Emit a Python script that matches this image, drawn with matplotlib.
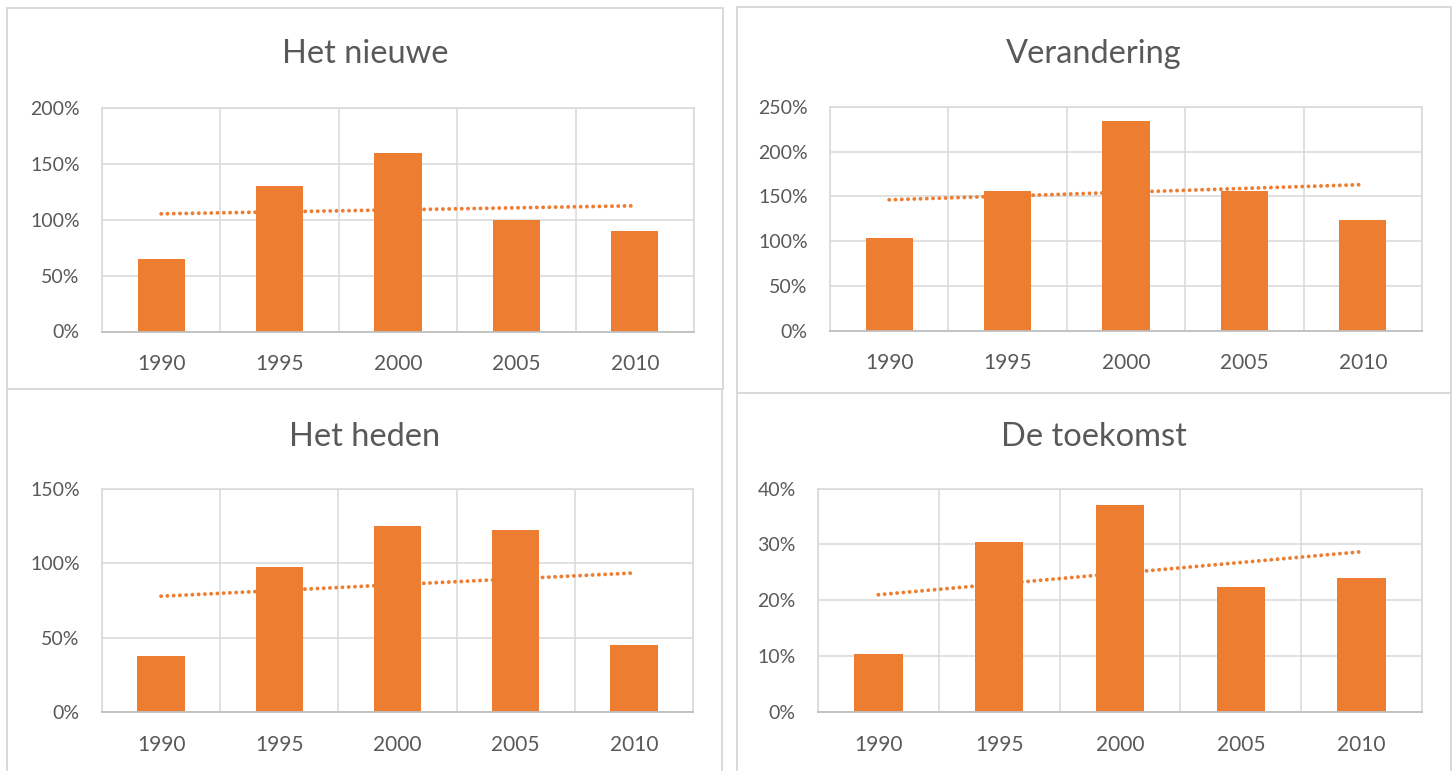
import numpy as np
import matplotlib
matplotlib.use('Agg')
import matplotlib.pyplot as plt
from matplotlib.lines import Line2D
from matplotlib.ticker import FuncFormatter

# ---- data ----
years = ['1990', '1995', '2000', '2005', '2010']
titles = ['Het nieuwe', 'Verandering', 'Het heden', 'De toekomst']
het_nieuwe = [65, 130.5, 160, 99.5, 89.5]
verandering = [103, 156, 234, 156.5, 124]
het_heden = [38, 97.5, 125, 122.5, 45]
de_toekomst = [10.4, 30.4, 37.1, 22.4, 24.0]
series = [het_nieuwe, verandering, het_heden, de_toekomst]
ymax = [200, 250, 150, 40]
ystep = [50, 50, 50, 10]

# ---- style ----
plt.rcParams['font.family'] = ['Lato', 'DejaVu Sans']
ORANGE = '#ED7D31'
TXT = '#595959'
GRID = '#d9d9d9'
W, H = 1453, 771

fig = plt.figure(figsize=(W / 100, H / 100), dpi=100)
fig.patch.set_facecolor('white')

def fx(x):
    return x / W

def fy(y):
    return 1 - y / H

# panel frames (left, top, right, bottom) in px
panels = [(7, 8, 723, 389), (737, 7, 1451, 393), (7, 389, 722, 790), (737, 393, 1451, 790)]
for (l, t, r, b) in panels:
    xs = [l, r, r, l, l]
    ys = [t, t, b, b, t]
    fig.add_artist(Line2D([fx(v) for v in xs], [fy(v) for v in ys],
                          transform=fig.transFigure, color=GRID, lw=1.4, zorder=0))

# axes rectangles (left, top, right, bottom) px
axrects = [(102, 108, 694, 331.5), (830, 107, 1422, 330.5),
           (102, 488.5, 693, 712.3), (818, 488.5, 1422, 712.3)]
title_pos = [(365, 63), (1094, 63), (364.5, 446), (1094, 446)]

x = np.arange(len(years))
for i in range(4):
    l, t, r, b = axrects[i]
    ax = fig.add_axes([fx(l), fy(b), (r - l) / W, (b - t) / H])
    vals = series[i]
    ax.bar(x, vals, width=0.4, color=ORANGE, zorder=2)
    # linear trendline fitted to the series
    k, c = np.polyfit(x, vals, 1)
    ax.plot([x[0], x[-1]], [k * x[0] + c, k * x[-1] + c], color=ORANGE, lw=2.8,
            linestyle=(0, (0.01, 1.6)), dash_capstyle='round', zorder=3)
    ax.set_xlim(-0.5, len(years) - 0.5)
    ax.set_ylim(0, ymax[i])
    ax.set_yticks(np.arange(0, ymax[i] + 0.1, ystep[i]))
    ax.yaxis.set_major_formatter(FuncFormatter(lambda v, p: f'{int(round(v))}%'))
    ax.set_xticks(x)
    ax.set_xticklabels(years)
    ax.set_xticks(np.arange(-0.5, len(years), 1), minor=True)
    ax.grid(axis='y', which='major', color=GRID, lw=1.1, zorder=0)
    ax.grid(axis='x', which='minor', color=GRID, lw=1.1, zorder=0)
    ax.grid(axis='x', which='major', visible=False)
    ax.set_axisbelow(True)
    for s in ['top', 'left', 'right']:
        ax.spines[s].set_color(GRID)
        ax.spines[s].set_linewidth(1.1)
    ax.spines['bottom'].set_color('#bfbfbf')
    ax.spines['bottom'].set_linewidth(1.3)
    ax.tick_params(axis='both', which='both', length=0, labelcolor=TXT)
    ax.tick_params(axis='x', pad=16, labelsize=15)
    ax.tick_params(axis='y', pad=16, labelsize=14)
    tx, ty = title_pos[i]
    fig.text(fx(tx), fy(ty), titles[i], ha='center', va='baseline',
             fontsize=23.5, color=TXT)

fig.savefig('out.png', dpi=100, facecolor='white')
